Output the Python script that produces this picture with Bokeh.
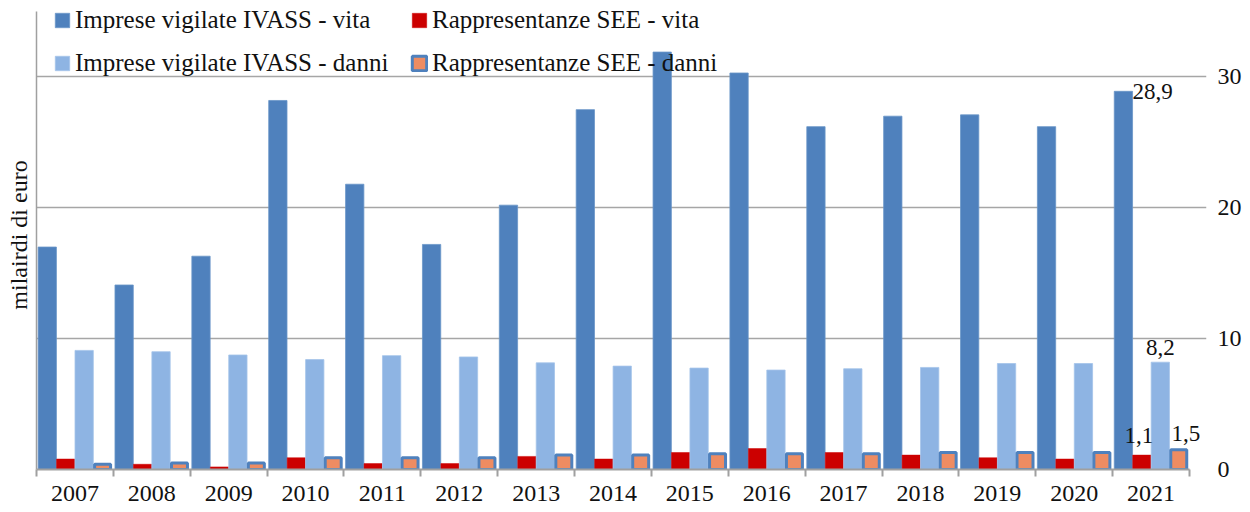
from bokeh.plotting import figure
from bokeh.models import Range1d, LinearAxis, FixedTicker, Legend, LegendItem, ColumnDataSource, Label
from bokeh.transform import dodge
from bokeh.embed import file_html
from bokeh.resources import INLINE

years = ["2007", "2008", "2009", "2010", "2011", "2012", "2013", "2014",
         "2015", "2016", "2017", "2018", "2019", "2020", "2021"]
ivass_vita = [17.0, 14.1, 16.3, 28.2, 21.8, 17.2, 20.2, 27.5, 31.9, 30.3, 26.2, 27.0, 27.1, 26.2, 28.9]
see_vita = [0.8, 0.4, 0.2, 0.9, 0.45, 0.45, 1.0, 0.8, 1.3, 1.6, 1.3, 1.1, 0.9, 0.8, 1.1]
ivass_danni = [9.1, 9.0, 8.75, 8.4, 8.7, 8.6, 8.15, 7.9, 7.75, 7.6, 7.7, 7.8, 8.1, 8.1, 8.2]
see_danni = [0.4, 0.5, 0.5, 0.9, 0.9, 0.9, 1.1, 1.1, 1.2, 1.2, 1.2, 1.3, 1.3, 1.3, 1.5]
y_ticks = [0, 10, 20, 30]

series_names = ["Imprese vigilate IVASS - vita", "Rappresentanze SEE - vita",
                "Imprese vigilate IVASS - danni", "Rappresentanze SEE - danni"]

FONT = "Liberation Serif"
TXT = "#111111"
n = len(years)
centers = [i + 0.5 for i in range(n)]
Y_MAX = 35
X_PAD = 0.221   # extra room right of the last category for the data label
Y_PAD = 0.84    # extra room above the axis top for the legend

src = ColumnDataSource(dict(
    c=centers, iv=ivass_vita, sv=see_vita, idn=ivass_danni, sd=see_danni,
))

p = figure(width=1245, height=505, output_backend="svg", toolbar_location=None,
           x_range=Range1d(0, n + X_PAD), y_range=Range1d(0, Y_MAX + Y_PAD),
           y_axis_location="right",
           min_border_left=36, min_border_right=39, min_border_top=0, min_border_bottom=36)
p.outline_line_color = None
p.background_fill_color = "white"
p.border_fill_color = "white"

W = 0.238
r1 = p.vbar(x=dodge("c", -0.36, range=p.x_range), top="iv", width=W, source=src,
            fill_color="#4F81BD", line_color="#6A95C8", line_width=0.8)
r2 = p.vbar(x=dodge("c", -0.12, range=p.x_range), top="sv", width=W, source=src,
            fill_color="#CC0000", line_color="#CC0000", line_width=0.5)
r3 = p.vbar(x=dodge("c", 0.12, range=p.x_range), top="idn", width=W, source=src,
            fill_color="#8EB4E3", line_color="#A5C4EA", line_width=0.8)
r4 = p.vbar(x=dodge("c", 0.36, range=p.x_range), top="sd", width=W - 0.03, source=src,
            fill_color="#EE8C62", line_color="#4F81BD", line_width=3)

# grid
p.xgrid.visible = False
p.ygrid.ticker = FixedTicker(ticks=y_ticks[1:])
p.ygrid.grid_line_color = "#A6A6A6"
p.ygrid.grid_line_width = 1.5
p.ygrid.bounds = (0, n)

# right axis (labels)
ya = p.yaxis[0]
ya.ticker = FixedTicker(ticks=y_ticks)
ya.axis_line_color = None
ya.major_tick_line_color = None
ya.minor_tick_line_color = None
ya.major_label_standoff = 5
ya.major_label_text_font = FONT
ya.major_label_text_font_size = "24px"
ya.major_label_text_color = TXT

# left axis (line and title)
la = LinearAxis(ticker=FixedTicker(ticks=[]), axis_label="milairdi di euro", bounds=(0, Y_MAX))
la.axis_line_color = "#A0A0A0"
la.axis_line_width = 1.5
la.major_tick_line_color = None
la.minor_tick_line_color = None
la.major_label_text_font_size = "0px"
la.major_label_standoff = 0
la.axis_label_standoff = 5
la.axis_label_text_font = FONT
la.axis_label_text_font_style = "normal"
la.axis_label_text_font_size = "24px"
la.axis_label_text_color = TXT
p.add_layout(la, "left")

# bottom axis
xa = p.xaxis[0]
xa.ticker = FixedTicker(ticks=centers, minor_ticks=list(range(n + 1)))
xa.major_label_overrides = {c: y for c, y in zip(centers, years)}
xa.bounds = (0, n)
xa.axis_line_color = "#A0A0A0"
xa.axis_line_width = 2
xa.major_tick_line_color = None
xa.major_tick_out = 0
xa.major_tick_in = 0
xa.minor_tick_line_color = "#A0A0A0"
xa.minor_tick_line_width = 2
xa.minor_tick_out = 7
xa.minor_tick_in = 0
xa.major_label_standoff = 9
xa.major_label_text_font = FONT
xa.major_label_text_font_size = "24px"
xa.major_label_text_color = TXT

# data labels for 2021
last = n - 1
def fmt(v):
    return f"{v:.1f}".replace(".", ",")

def add_label(x, y, txt, align, baseline, xo, yo):
    p.add_layout(Label(x=x, y=y, text=txt, text_align=align, text_baseline=baseline,
                       x_offset=xo, y_offset=yo, text_font=FONT, text_font_size="23px",
                       text_color=TXT))

add_label(centers[last] - 0.36 + W / 2, ivass_vita[last], fmt(ivass_vita[last]), "left", "middle", 0, 0)
add_label(centers[last] + 0.12, ivass_danni[last], fmt(ivass_danni[last]), "center", "bottom", 0, 7)
add_label(centers[last] - 0.12, see_vita[last], fmt(see_vita[last]), "center", "bottom", -3, 12)
add_label(centers[last] + 0.36, see_danni[last], fmt(see_danni[last]), "center", "bottom", 7, 9)

# legends (two rows x two columns)
def mk_legend(name, r, loc):
    lg = Legend(items=[LegendItem(label=name, renderers=[r])], location=loc,
                orientation="horizontal", glyph_width=18, glyph_height=18,
                label_standoff=4, padding=0, margin=0, spacing=0,
                background_fill_alpha=0, border_line_color=None)
    lg.label_text_font = FONT
    lg.label_text_font_size = "25px"
    lg.label_text_font_style = "normal"
    lg.label_text_color = TXT
    p.add_layout(lg, "center")

mk_legend(series_names[0], r1, (17, 435))
mk_legend(series_names[1], r2, (374, 435))
mk_legend(series_names[2], r3, (17, 392))
mk_legend(series_names[3], r4, (374, 392))

open("out.html", "w").write(file_html(p, INLINE))
